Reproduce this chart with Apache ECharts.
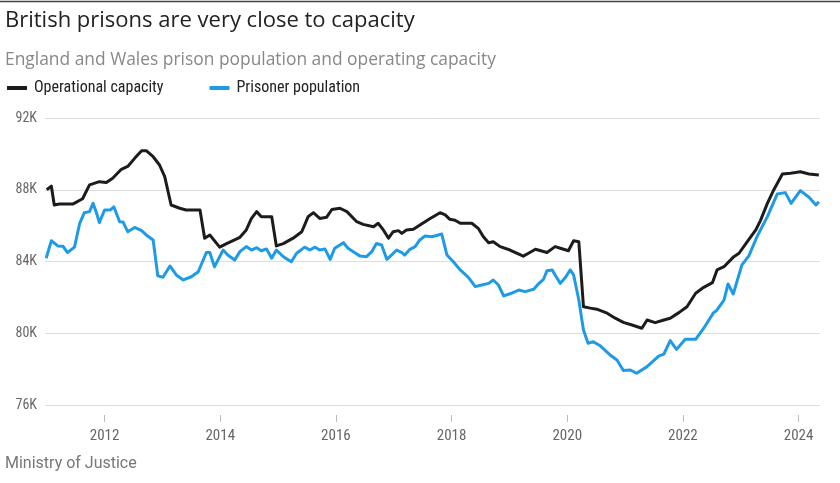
<!DOCTYPE html>
<html>
<head>
<meta charset="utf-8">
<script src="https://cdn.jsdelivr.net/npm/echarts@6/dist/echarts.min.js"></script>
<style>
html,body{margin:0;padding:0;background:#fff;}
#chart{width:840px;height:483px;}
</style>
</head>
<body>
<div id="chart"></div>
<script>
// Operational capacity (thousands) by decimal year
var capYears = [2011.00,2011.08,2011.13,2011.22,2011.45,2011.62,2011.74,2011.91,2012.03,2012.14,2012.29,2012.40,2012.52,2012.64,2012.72,2012.84,2012.95,2013.04,2013.15,2013.30,2013.41,2013.65,2013.73,2013.82,2013.99,2014.11,2014.34,2014.45,2014.54,2014.63,2014.71,2014.89,2014.97,2015.09,2015.26,2015.41,2015.52,2015.61,2015.72,2015.84,2015.93,2016.07,2016.19,2016.36,2016.47,2016.65,2016.73,2016.82,2016.91,2016.99,2017.08,2017.14,2017.22,2017.34,2017.48,2017.63,2017.80,2017.89,2017.97,2018.06,2018.15,2018.35,2018.46,2018.55,2018.64,2018.72,2018.84,2019.01,2019.24,2019.33,2019.45,2019.65,2019.79,2019.88,2020.02,2020.11,2020.20,2020.28,2020.40,2020.51,2020.69,2020.83,2020.97,2021.12,2021.29,2021.38,2021.52,2021.67,2021.78,2021.93,2022.07,2022.22,2022.36,2022.51,2022.59,2022.71,2022.88,2022.97,2023.11,2023.26,2023.34,2023.46,2023.57,2023.72,2023.86,2024.03,2024.18,2024.35];
var capValues = [88.0,88.2,87.15,87.2,87.2,87.5,88.27,88.45,88.4,88.64,89.14,89.3,89.75,90.18,90.18,89.84,89.38,88.73,87.15,86.97,86.87,86.87,85.3,85.48,84.8,85.0,85.35,85.76,86.4,86.78,86.5,86.5,84.87,85.0,85.3,85.66,86.5,86.72,86.4,86.47,86.9,86.97,86.78,86.22,86.07,85.94,86.13,85.76,85.3,85.66,85.72,85.57,85.76,85.8,86.09,86.4,86.72,86.6,86.35,86.3,86.13,86.13,85.85,85.38,85.05,85.1,84.83,84.64,84.3,84.46,84.68,84.5,84.83,84.74,84.6,85.16,85.1,81.48,81.4,81.34,81.12,80.84,80.61,80.46,80.28,80.74,80.59,80.74,80.84,81.15,81.48,82.23,82.56,82.82,83.53,83.71,84.27,84.46,85.1,85.76,86.28,87.24,87.99,88.88,88.92,89.0,88.88,88.82];

// Prisoner population (thousands) by decimal year
var popYears = [2010.99,2011.08,2011.19,2011.28,2011.36,2011.48,2011.57,2011.65,2011.74,2011.80,2011.86,2011.91,2012.00,2012.10,2012.16,2012.26,2012.32,2012.40,2012.52,2012.64,2012.72,2012.84,2012.92,2013.01,2013.13,2013.24,2013.36,2013.50,2013.62,2013.76,2013.82,2013.90,2014.05,2014.13,2014.25,2014.34,2014.45,2014.54,2014.63,2014.71,2014.80,2014.89,2014.97,2015.06,2015.12,2015.23,2015.32,2015.46,2015.55,2015.64,2015.72,2015.81,2015.90,2015.98,2016.13,2016.21,2016.30,2016.42,2016.53,2016.62,2016.70,2016.79,2016.88,2016.96,2017.05,2017.14,2017.19,2017.28,2017.37,2017.45,2017.54,2017.66,2017.77,2017.83,2017.92,2018.03,2018.15,2018.29,2018.41,2018.52,2018.64,2018.72,2018.81,2018.90,2019.01,2019.16,2019.27,2019.42,2019.50,2019.59,2019.65,2019.74,2019.79,2019.88,2019.97,2020.05,2020.11,2020.20,2020.28,2020.36,2020.45,2020.57,2020.74,2020.86,2020.97,2021.09,2021.20,2021.38,2021.58,2021.67,2021.78,2021.89,2022.04,2022.22,2022.36,2022.53,2022.58,2022.71,2022.78,2022.87,2023.02,2023.14,2023.28,2023.46,2023.63,2023.77,2023.87,2024.03,2024.18,2024.30,2024.35];
var popValues = [84.18,85.16,84.87,84.85,84.5,84.8,86.13,86.72,86.78,87.24,86.72,86.17,86.87,86.87,87.05,86.22,86.2,85.66,85.9,85.72,85.48,85.2,83.2,83.12,83.75,83.25,82.97,83.15,83.43,84.5,84.5,83.7,84.64,84.36,84.08,84.55,84.83,84.64,84.77,84.6,84.7,84.18,84.64,84.36,84.2,83.99,84.46,84.8,84.64,84.8,84.64,84.7,84.12,84.74,85.05,84.74,84.55,84.3,84.27,84.55,85.0,84.92,84.12,84.36,84.64,84.5,84.36,84.68,84.83,85.2,85.42,85.38,85.48,85.53,84.36,83.99,83.53,83.12,82.6,82.69,82.78,82.97,82.69,82.08,82.2,82.41,82.32,82.45,82.75,83.01,83.49,83.53,83.25,82.78,83.12,83.53,83.25,81.85,80.18,79.44,79.53,79.3,78.79,78.51,77.92,77.95,77.77,78.14,78.73,78.84,79.59,79.1,79.66,79.66,80.28,81.15,81.26,81.85,82.75,82.19,83.81,84.31,85.38,86.5,87.76,87.84,87.24,87.95,87.58,87.15,87.33];

var xTickYears = [2012, 2014, 2016, 2018, 2020, 2022, 2024];
var yTicks = [76, 80, 84, 88, 92];

function pairs(xs, ys) { return xs.map(function (x, i) { return [x, ys[i]]; }); }

var condensed = "'Roboto Condensed', 'Liberation Sans Narrow', 'DejaVu Sans Condensed', Roboto, sans-serif";
var chart = echarts.init(document.getElementById('chart'), null, { renderer: 'canvas' });
chart.setOption({
  animation: false,
  backgroundColor: '#ffffff',
  graphic: [{
    type: 'line', shape: { x1: 0, y1: 1.5, x2: 840, y2: 1.5 },
    style: { stroke: '#444', lineWidth: 1.5 }
  }],
  title: [
    { text: 'British prisons are very close to capacity', left: 5, top: 10, padding: 0,
      textStyle: { fontFamily: "'Open Sans', Roboto, sans-serif", fontSize: 22, fontWeight: 'normal', color: '#222' } },
    { text: 'England and Wales prison population and operating capacity', left: 5, top: 52, padding: 0,
      textStyle: { fontFamily: "'Open Sans', Roboto, sans-serif", fontSize: 17.4, fontWeight: 'normal', color: '#888' } },
    { text: 'Ministry of Justice', left: 5, top: 456, padding: 0,
      textStyle: { fontFamily: 'Roboto, sans-serif', fontSize: 16, fontWeight: 'normal', color: '#777' } }
  ],
  legend: {
    left: 7, top: 80, padding: 0, itemWidth: 20, itemHeight: 4, itemGap: 46, icon: 'rect',
    textStyle: { fontFamily: condensed, fontSize: 16, color: '#222', padding: [0, 0, 0, 2] },
    data: ['Operational capacity', 'Prisoner population']
  },
  grid: { left: 45, right: 20, top: 118, bottom: 78 },
  xAxis: {
    type: 'value', min: 2010.97, max: 2024.37, offset: 10,
    axisLine: { show: false },
    axisTick: { show: true, customValues: xTickYears, length: 7, lineStyle: { color: '#bbb' } },
    axisLabel: { customValues: xTickYears, margin: 14, fontFamily: condensed, fontSize: 15, color: '#666',
      formatter: function (v) { return String(v); } },
    splitLine: { show: false }
  },
  yAxis: {
    type: 'value', min: yTicks[0], max: yTicks[yTicks.length - 1], interval: 4,
    axisLine: { show: false }, axisTick: { show: false },
    axisLabel: { margin: 8, fontFamily: condensed, fontSize: 14, color: '#666',
      formatter: function (v) { return v + 'K'; } },
    splitLine: { lineStyle: { color: '#ddd', width: 1 } }
  },
  series: [
    { name: 'Operational capacity', type: 'line', data: pairs(capYears, capValues),
      showSymbol: false, itemStyle: { color: '#1c1c1c' },
      lineStyle: { color: '#1c1c1c', width: 3, join: 'round' } },
    { name: 'Prisoner population', type: 'line', data: pairs(popYears, popValues),
      showSymbol: false, itemStyle: { color: '#1f9be6' },
      lineStyle: { color: '#1f9be6', width: 3, join: 'round' } }
  ]
});
</script>
</body>
</html>
